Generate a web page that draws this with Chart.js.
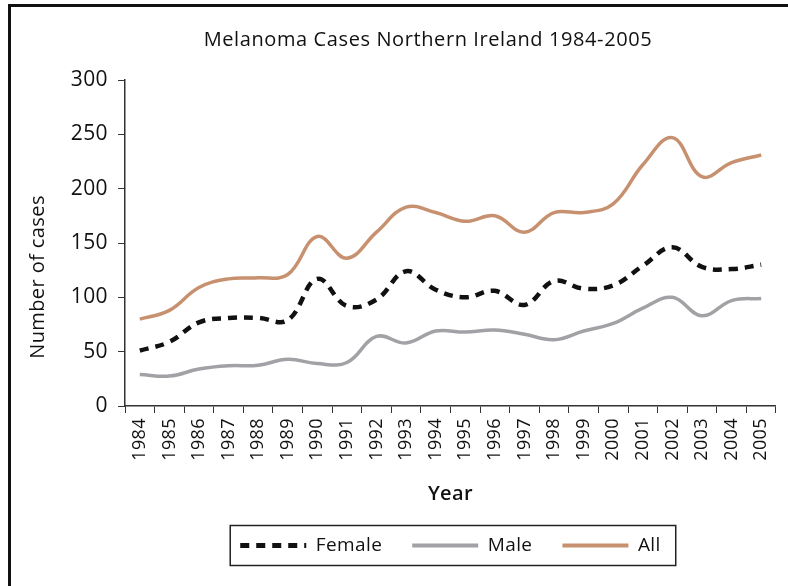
<!DOCTYPE html>
<html lang="en">
<head>
  <meta charset="UTF-8" />
  <title>Melanoma Cases Northern Ireland 1984-2005</title>
  <script src="https://cdn.jsdelivr.net/npm/chart.js"></script>
  <style>
    html, body { margin: 0; padding: 0; background: #fff; }
    #wrap { position: relative; width: 788px; height: 586px; overflow: hidden; }
    #frame { position: absolute; left: 8px; top: 4px; right: -10px; bottom: -10px;
             border-left: 3px solid #111; border-top: 3px solid #111; }
    canvas { position: absolute; left: 0; top: 0; }
  </style>
</head>
<body>
  <div id="wrap">
    <div id="frame"></div>
    <canvas id="lineChart" width="788" height="586"></canvas>
  </div>

  <script>
    // values
    const years = ["1984", "1985", "1986", "1987", "1988", "1989", "1990", "1991", "1992", "1993", "1994",
                   "1995", "1996", "1997", "1998", "1999", "2000", "2001", "2002", "2003", "2004", "2005"];
    const female = [51, 59, 77, 81, 81, 79, 117, 92, 98, 124, 107, 100, 106, 93, 115, 108, 111, 129, 146, 128, 126, 130];
    const male = [29, 27.5, 34, 37, 37.5, 43, 39, 40, 64, 58, 69, 68, 70, 66, 61, 69, 76, 90, 100, 83, 97, 99];
    const all = [80, 88, 109, 117, 118, 121, 156, 136, 160, 183, 178, 170, 175, 160, 178, 178, 186, 222, 247, 211, 224, 231];
    const yTicks = [0, 50, 100, 150, 200, 250, 300];

    const FONT = "'Open Sans', 'Noto Sans', sans-serif";
    const SPACING = '0.4px';

    // the source font is a little wider than Open Sans
    function spaceLetters(chart) {
      chart.ctx.letterSpacing = SPACING;
    }

    // title, rotated y title and the box round the legend
    const extras = {
      id: 'extras',
      beforeLayout: spaceLetters,
      beforeDraw: spaceLetters,
      afterDraw(chart) {
        const ctx = chart.ctx;
        ctx.save();
        ctx.fillStyle = '#111';
        ctx.textAlign = 'center';
        ctx.textBaseline = 'middle';
        ctx.letterSpacing = '0.6px';
        ctx.font = "20px " + FONT;
        ctx.fillText('Melanoma Cases Northern Ireland 1984-2005', 428, 40);

        ctx.letterSpacing = SPACING;
        ctx.translate(38, 277);
        ctx.rotate(-Math.PI / 2);
        ctx.font = "20px " + FONT;
        ctx.fillText('Number of cases', 0, 0);
        ctx.restore();

        const boxes = chart.legend.legendHitBoxes;
        if (boxes && boxes.length) {
          const first = boxes[0], last = boxes[boxes.length - 1];
          const cy = first.top + first.height / 2;
          ctx.save();
          ctx.strokeStyle = '#222';
          ctx.lineWidth = 1.5;
          ctx.strokeRect(first.left - 10, cy - 20, last.left + last.width + 15 - (first.left - 10), 40);
          ctx.restore();
        }
      }
    };

    new Chart(document.getElementById("lineChart").getContext("2d"), {
      type: 'line',
      data: {
        labels: years,
        datasets: [
          { label: 'Female', data: female, borderColor: '#111', borderWidth: 4.5,
            borderDash: [9, 7], borderCapStyle: 'butt' },
          { label: 'Male', data: male, borderColor: '#a2a2a6', borderWidth: 3.5 },
          { label: 'All', data: all, borderColor: '#c79170', borderWidth: 3.5 }
        ]
      },
      options: {
        responsive: false,
        animation: false,
        devicePixelRatio: 1,
        elements: { point: { radius: 0 }, line: { tension: 0.4, fill: false } },
        layout: { padding: { left: 0, right: 10, top: 80, bottom: 21 } },
        plugins: {
          title: { display: false },
          legend: {
            position: 'bottom',
            fullSize: false,
            labels: {
              color: '#111',
              font: { family: FONT, size: 19 },
              usePointStyle: true,
              pointStyleWidth: 66,
              pointStyle: 'line',
              padding: 30,
              // point style drops the dash, take it back from the dataset
              generateLabels(chart) {
                const items = Chart.defaults.plugins.legend.labels.generateLabels(chart);
                items.forEach(item => {
                  const ds = chart.data.datasets[item.datasetIndex];
                  item.lineDash = ds.borderDash || [];
                  item.lineWidth = ds.borderWidth + 0.5;
                });
                return items;
              }
            }
          },
          tooltip: { enabled: false }
        },
        scales: {
          x: {
            offset: true,
            grid: { offset: true, drawOnChartArea: false, tickLength: 7, color: '#333' },
            border: { color: '#333', width: 1.5 },
            ticks: { color: '#111', font: { family: FONT, size: 18 }, minRotation: 90, maxRotation: 90,
                     autoSkip: false, padding: 5 },
            title: { display: true, text: 'Year', color: '#111',
                     font: { family: FONT, size: 20, weight: '600' }, padding: { top: 0, bottom: 0 } },
            afterFit(scale) { scale.height = 100; }
          },
          y: {
            min: 0, max: 300,
            afterBuildTicks(scale) { scale.ticks = yTicks.map(v => ({ value: v })); },
            grid: { drawOnChartArea: false, tickLength: 7, color: '#333' },
            border: { color: '#333', width: 1.5 },
            ticks: { color: '#111', font: { family: FONT, size: 21 }, padding: 10 },
            afterFit(scale) { scale.width = 125; }
          }
        }
      },
      plugins: [extras]
    });
  </script>
</body>
</html>
